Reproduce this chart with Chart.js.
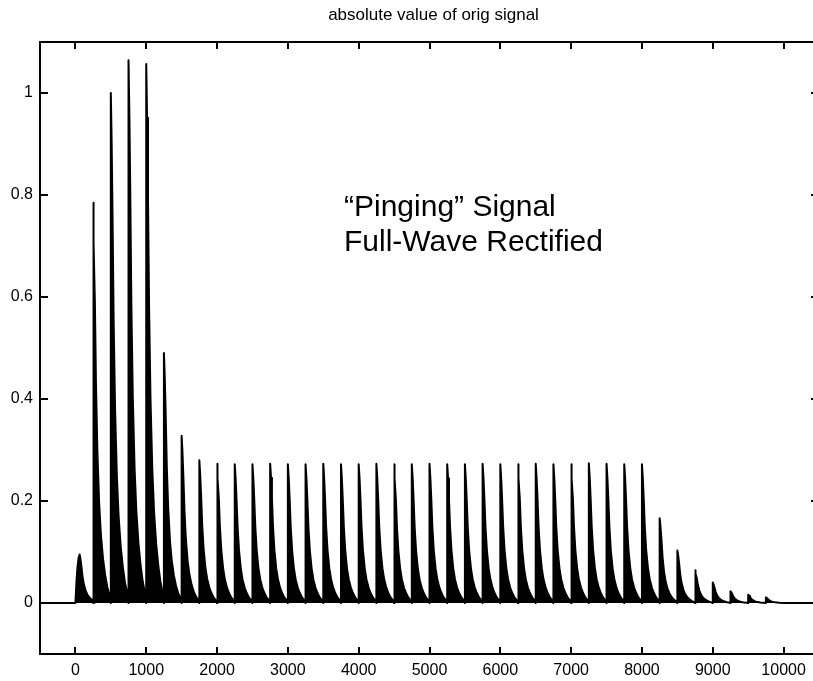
<!DOCTYPE html>
<html>
<head>
<meta charset="utf-8">
<title>absolute value of orig signal</title>
<script src="https://cdn.jsdelivr.net/npm/chart.js@4.4.1/dist/chart.umd.min.js"></script>
<style>
  html, body { margin: 0; padding: 0; overflow: hidden; background: #fff; }
  canvas { display: block; }
</style>
</head>
<body>
<canvas id="ping-chart" width="830" height="681"></canvas>
<script>
// axis ticks
const xTicks = [0, 1000, 2000, 3000, 4000, 5000, 6000, 7000, 8000, 9000, 10000];
const yTicks = [0, 0.2, 0.4, 0.6, 0.8, 1];
const yTickLabels = ['0', '0.2', '0.4', '0.6', '0.8', '1'];

// onset of each ping (sample index) and its peak height
const pingX = [0, 250, 500, 750, 1000, 1250, 1500, 1750, 2000, 2250,
  2500, 2750, 3000, 3250, 3500, 3750, 4000, 4250, 4500, 4750,
  5000, 5250, 5500, 5750, 6000, 6250, 6500, 6750, 7000, 7250,
  7500, 7750, 8000, 8250, 8500, 8750, 9000, 9250, 9500, 9750];
const pingPeak = [0.095, 0.785, 1.0, 1.064, 1.057, 0.49, 0.328, 0.28, 0.273, 0.272,
  0.272, 0.273, 0.272, 0.272, 0.273, 0.272, 0.272, 0.273, 0.272, 0.272,
  0.273, 0.272, 0.272, 0.273, 0.272, 0.272, 0.273, 0.272, 0.272, 0.274,
  0.273, 0.272, 0.272, 0.166, 0.103, 0.064, 0.040, 0.023, 0.016, 0.011];

// envelope of one ping after its peak (offset in samples, share of peak)
const decayOffset = [0, 12, 25, 40, 60, 85, 110, 140, 170, 200, 230];
const decayLevel = [1, 0.9, 0.75, 0.55, 0.38, 0.25, 0.17, 0.11, 0.07, 0.04, 0.02];

// the first ping ramps up instead of jumping
const firstRiseOffset = [0, 15, 30, 45, 60];
const firstRiseLevel = [0, 0.45, 0.75, 0.93, 1];

const titleText = 'absolute value of orig signal';
const noteLines = ['\u201cPinging\u201d Signal', 'Full-Wave Rectified'];

const fontFamily = '"Liberation Sans", Arial, Helvetica, sans-serif';

// build the envelope points
const points = [{x: -500, y: 0}];
pingX.forEach((p, i) => {
  let start = p;
  if (i === 0) {
    firstRiseOffset.forEach((o, k) => points.push({x: p + o, y: pingPeak[i] * firstRiseLevel[k]}));
    start = p + firstRiseOffset[firstRiseOffset.length - 1];
  } else {
    points.push({x: p, y: 0});
  }
  decayOffset.forEach((o, k) => points.push({x: start + o, y: pingPeak[i] * decayLevel[k]}));
});
points.push({x: 10500, y: 0});

// MATLAB style box, inward ticks, title and note
const matlabFrame = {
  id: 'matlabFrame',
  afterDraw(chart) {
    const {ctx, chartArea: a, scales: {x, y}} = chart;
    ctx.save();
    ctx.strokeStyle = '#000';
    ctx.lineWidth = 2;
    ctx.strokeRect(a.left, a.top, a.right - a.left, a.bottom - a.top);
    ctx.beginPath();
    xTicks.forEach(v => {
      const px = Math.round(x.getPixelForValue(v));
      ctx.moveTo(px, a.bottom); ctx.lineTo(px, a.bottom - 7);
      ctx.moveTo(px, a.top); ctx.lineTo(px, a.top + 7);
    });
    yTicks.forEach(v => {
      const py = Math.round(y.getPixelForValue(v));
      ctx.moveTo(a.left, py); ctx.lineTo(a.left + 8, py);
      ctx.moveTo(a.right, py); ctx.lineTo(a.right - 8, py);
    });
    ctx.stroke();

    ctx.fillStyle = '#000';
    ctx.font = '17px ' + fontFamily;
    ctx.textAlign = 'center';
    ctx.textBaseline = 'middle';
    ctx.fillText(titleText, (a.left + a.right) / 2 + 4, 15);

    ctx.font = '30px ' + fontFamily;
    ctx.textAlign = 'left';
    ctx.textBaseline = 'alphabetic';
    ctx.fillText(noteLines[0], 344, 216);
    ctx.fillText(noteLines[1], 344, 251);
    ctx.restore();
  }
};

new Chart(document.getElementById('ping-chart'), {
  type: 'line',
  data: {
    datasets: [{
      data: points,
      borderColor: '#000',
      backgroundColor: '#000',
      borderWidth: 2,
      borderJoinStyle: 'round',
      borderCapStyle: 'butt',
      pointRadius: 0,
      tension: 0,
      fill: 'origin'
    }]
  },
  options: {
    responsive: false,
    animation: false,
    layout: { padding: { top: 42, right: 11, left: 0, bottom: 0 } },
    plugins: { legend: { display: false }, tooltip: { enabled: false } },
    scales: {
      x: {
        type: 'linear',
        min: -500,
        max: 10500,
        afterBuildTicks: s => { s.ticks = xTicks.map(v => ({value: v})); },
        afterFit: s => { s.height = 27; },
        grid: { display: false, drawTicks: false },
        border: { display: false },
        ticks: {
          autoSkip: false,
          maxRotation: 0,
          padding: 7,
          color: '#000',
          font: { size: 16, family: fontFamily },
          callback: v => String(v)
        }
      },
      y: {
        min: -0.1,
        max: 1.1,
        afterBuildTicks: s => { s.ticks = yTicks.map(v => ({value: v})); },
        afterFit: s => { s.width = 40; },
        grid: { display: false, drawTicks: false },
        border: { display: false },
        ticks: {
          padding: 7,
          color: '#000',
          font: { size: 16, family: fontFamily },
          callback: (v, i) => yTickLabels[i]
        }
      }
    }
  },
  plugins: [matlabFrame]
});
</script>
</body>
</html>
